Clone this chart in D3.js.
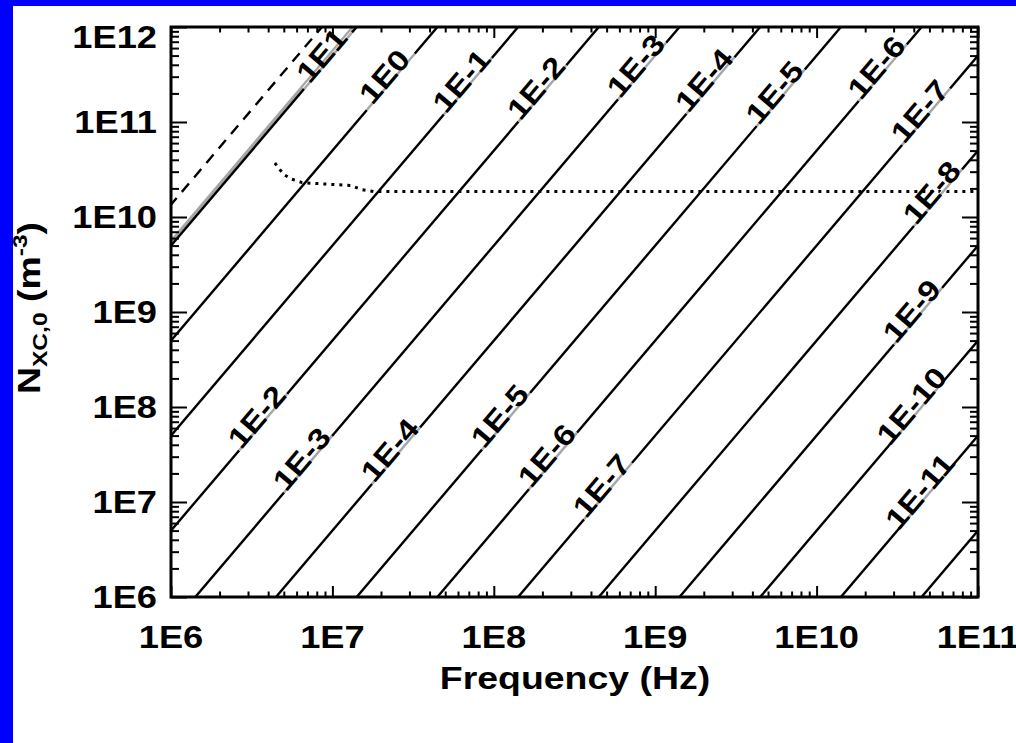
<!DOCTYPE html>
<html>
<head>
<meta charset="utf-8">
<script src="https://cdn.jsdelivr.net/npm/d3@7"></script>
<style>
body { margin: 0; background: #fff; }
svg { display: block; }
text { font-family: "Liberation Sans", Arial, Helvetica, sans-serif; font-weight: bold; fill: #000; }
</style>
</head>
<body>
<svg id="chart" width="1016" height="743"></svg>
<script>
// ---- data ----
// contour label exponents (1E1 ... 1E-12), one straight line each (N ~ f^2)
var contourExp = [1, 0, -1, -2, -3, -4, -5, -6, -7, -8, -9, -10, -11, -12];
// density where each contour crosses 1 MHz (m^-3)
var contourN1MHz = [5.0e9, 5.0e8, 5.0e7, 5.0e6, 5.0e5, 5.0e4, 5.0e3, 5.0e2, 50, 5, 0.5, 0.05, 0.005, 0.0005];

// dashed line (plasma frequency) and grey companion line, N at 1 MHz
var plasmaN1MHz = 1.35e10;
var greyN1MHz = 5.5e9;

// contour labels along the top / upper right
var topLabelExp  = [1, 0, -1, -2, -3, -4, -5, -6, -7, -8];
var topLabelFreq = [9.4e6, 2.3e7, 6.9e7, 2.0e8, 8.3e8, 2.2e9, 6.0e9, 2.57e10, 4.77e10, 5.65e10];
// contour labels in the lower half
var lowLabelExp  = [-2, -3, -4, -5, -6, -7, -9, -10, -11];
var lowLabelFreq = [3.72e6, 7.06e6, 2.48e7, 1.19e8, 2.33e8, 5.1e8, 4.25e10, 4.25e10, 4.77e10];

// dotted curve
var cutoffFreq = [4.4e6, 4.7e6, 5.0e6, 5.6e6, 6.5e6, 1.0e7, 1.3e7, 1.5e7, 1.8e7, 1e11];
var cutoffN    = [3.7e10, 3.2e10, 2.8e10, 2.5e10, 2.3e10, 2.2e10, 2.15e10, 1.95e10, 1.85e10, 1.85e10];

var xTicks = [1e6, 1e7, 1e8, 1e9, 1e10, 1e11];
var yTicks = [1e6, 1e7, 1e8, 1e9, 1e10, 1e11, 1e12];

// ---- layout ----
var svg = d3.select('#chart');
var plotL = 171, plotR = 978, plotT = 27, plotB = 597;
var stretch = 1.17;   // the figure's font is wider than Helvetica

var x = d3.scaleLog().domain([1e6, 1e11]).range([plotL, plotR]);
var y = d3.scaleLog().domain([1e6, 1e12]).range([plotB, plotT]);

svg.append('rect').attr('width', 1016).attr('height', 743).attr('fill', '#fff');
svg.append('rect').attr('width', 1016).attr('height', 6).attr('fill', '#0000ff');
svg.append('rect').attr('width', 13).attr('height', 743).attr('fill', '#0000ff');

svg.append('clipPath').attr('id', 'plot-clip')
    .append('rect')
    .attr('x', plotL).attr('y', plotT)
    .attr('width', plotR - plotL).attr('height', plotB - plotT);

var plot = svg.append('g').attr('clip-path', 'url(#plot-clip)');

// N ~ f^2 through a given density at 1 MHz
function lineN(n0, f) { return n0 * Math.pow(f / 1e6, 2); }
var lineGen = d3.line().x(d => x(d[0])).y(d => y(d[1]));
var fEnds = [1e5, 1e12];

function straight(n0) { return fEnds.map(f => [f, lineN(n0, f)]); }

// grey line next to the 1E1 contour
plot.append('path')
    .attr('d', lineGen(straight(greyN1MHz)))
    .attr('fill', 'none').attr('stroke', '#a6a6a6').attr('stroke-width', 3.5);

// contours
plot.selectAll('.contour')
    .data(contourN1MHz)
    .enter().append('path')
    .attr('class', 'contour')
    .attr('d', d => lineGen(straight(d)))
    .attr('fill', 'none').attr('stroke', '#000').attr('stroke-width', 2.4);

// dashed line
plot.append('path')
    .attr('d', lineGen(straight(plasmaN1MHz)))
    .attr('fill', 'none').attr('stroke', '#000').attr('stroke-width', 2.4)
    .attr('stroke-dasharray', '11,8');

// dotted curve
plot.append('path')
    .attr('d', lineGen(cutoffFreq.map((f, i) => [f, cutoffN[i]])))
    .attr('fill', 'none').attr('stroke', '#000').attr('stroke-width', 3)
    .attr('stroke-dasharray', '3,5');

// contour labels
var dxA = x(1e7) - x(1e6), dyA = y(1e8) - y(1e6);
var angle = Math.atan2(dyA, dxA);
var angleDeg = angle * 180 / Math.PI;
var labels = topLabelExp.map((e, i) => ({ e: e, f: topLabelFreq[i] }))
    .concat(lowLabelExp.map((e, i) => ({ e: e, f: lowLabelFreq[i] })));

labels.forEach(d => {
    var n0 = contourN1MHz[contourExp.indexOf(d.e)];
    d.px = x(d.f);
    d.py = y(lineN(n0, d.f));
    d.text = '1E' + d.e;
});

var halfLen = 37;
plot.selectAll('.label-gap')
    .data(labels)
    .enter().append('line')
    .attr('class', 'label-gap')
    .attr('x1', d => d.px - Math.cos(angle) * halfLen)
    .attr('y1', d => d.py - Math.sin(angle) * halfLen)
    .attr('x2', d => d.px + Math.cos(angle) * halfLen)
    .attr('y2', d => d.py + Math.sin(angle) * halfLen)
    .attr('stroke', '#fff').attr('stroke-width', 4);
plot.selectAll('.label-grey')
    .data(labels)
    .enter().append('line')
    .attr('class', 'label-grey')
    .attr('x1', d => d.px - Math.cos(angle) * halfLen)
    .attr('y1', d => d.py - Math.sin(angle) * halfLen)
    .attr('x2', d => d.px + Math.cos(angle) * halfLen)
    .attr('y2', d => d.py + Math.sin(angle) * halfLen)
    .attr('stroke', '#a6a6a6').attr('stroke-width', 2.4);

svg.selectAll('.clabel')
    .data(labels)
    .enter().append('text')
    .attr('class', 'clabel')
    .attr('transform', d => `translate(${d.px},${d.py}) rotate(${angleDeg}) scale(${stretch},1)`)
    .attr('text-anchor', 'middle')
    .attr('dy', '0.06em')
    .style('font-size', '29px')
    .text(d => d.text);

// ---- axes (ticks inward, mirrored on top and right) ----
function minors(lo, hi) {
    var out = [];
    for (var p = lo; p < hi; p++) {
        for (var m = 2; m <= 9; m++) out.push(m * Math.pow(10, p));
    }
    return out;
}
var xMinor = minors(6, 11);
var yMinor = minors(6, 12);

function drawAxis(axisFn, scale, majors, minorVals, majLen, minLen, tx, ty) {
    var g = svg.append('g').attr('transform', `translate(${tx},${ty})`);
    g.append('g').call(axisFn(scale).tickValues(majors).tickSize(-majLen).tickSizeOuter(0).tickFormat(''));
    g.append('g').call(axisFn(scale).tickValues(minorVals).tickSize(-minLen).tickSizeOuter(0).tickFormat(''));
    g.selectAll('.domain').remove();
    g.selectAll('line').attr('stroke', '#000').attr('stroke-width', 2);
}
drawAxis(d3.axisBottom, x, xTicks, xMinor, 11, 5.5, 0, plotB);
drawAxis(d3.axisTop, x, xTicks, xMinor, 11, 5.5, 0, plotT);
drawAxis(d3.axisLeft, y, yTicks, yMinor, 16, 8, plotL, 0);
drawAxis(d3.axisRight, y, yTicks, yMinor, 16, 8, plotR, 0);

svg.append('rect')
    .attr('x', plotL).attr('y', plotT)
    .attr('width', plotR - plotL).attr('height', plotB - plotT)
    .attr('fill', 'none').attr('stroke', '#000').attr('stroke-width', 3);

// tick labels
function expLabel(v) { return '1E' + Math.round(Math.log10(v)); }

svg.selectAll('.xlab')
    .data(xTicks)
    .enter().append('text')
    .attr('class', 'xlab')
    .attr('transform', d => `translate(${x(d)},648) scale(${stretch},1)`)
    .attr('text-anchor', 'middle')
    .style('font-size', '31px')
    .text(expLabel);

// the top label is kept inside the frame height, as in the figure
svg.selectAll('.ylab')
    .data(yTicks)
    .enter().append('text')
    .attr('class', 'ylab')
    .attr('transform', d => `translate(157,${Math.max(y(d), plotT + 10)}) scale(${stretch},1)`)
    .attr('text-anchor', 'end')
    .attr('dy', '0.36em')
    .style('font-size', '31px')
    .text(expLabel);

// axis titles
svg.append('text')
    .attr('transform', `translate(575,689) scale(${stretch},1)`)
    .attr('text-anchor', 'middle')
    .style('font-size', '32px')
    .text('Frequency (Hz)');

var yt = svg.append('text')
    .attr('transform', `translate(40,308) rotate(-90) scale(${stretch},1)`)
    .attr('text-anchor', 'middle')
    .style('font-size', '32px');
yt.append('tspan').text('N');
yt.append('tspan').attr('dy', 7).style('font-size', '21px').text('XC,0');
yt.append('tspan').attr('dy', -7).text(' (m');
yt.append('tspan').attr('dy', -13).style('font-size', '21px').text('-3');
yt.append('tspan').attr('dy', 13).text(')');
</script>
</body>
</html>
